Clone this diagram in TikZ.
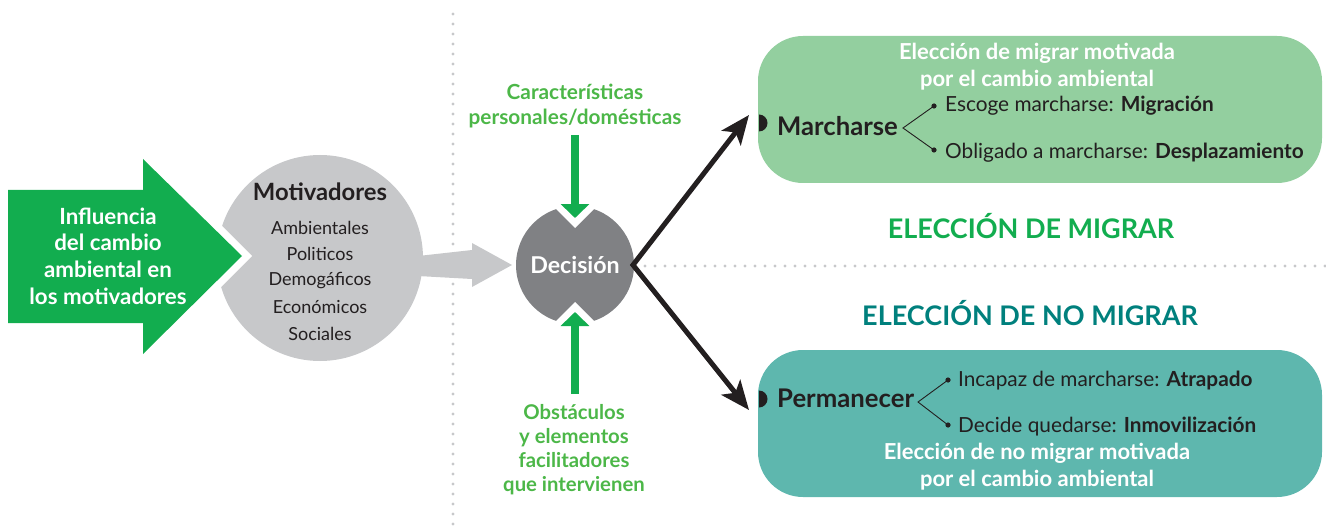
\documentclass[tikz,border=0pt]{standalone}
\usepackage{fontspec}
\setmainfont{Lato}
\usetikzlibrary{arrows.meta}
\definecolor{bigarrow}{HTML}{12AD4F}
\definecolor{lblgreen}{HTML}{4CB748}
\definecolor{lgray}{HTML}{C7C8CA}
\definecolor{dgray}{HTML}{808184}
\definecolor{boxgreen}{HTML}{93CF9F}
\definecolor{boxteal}{HTML}{5EB7AE}
\definecolor{headgreen}{HTML}{12AD4F}
\definecolor{headteal}{HTML}{00807D}
\definecolor{ink}{HTML}{231F20}
\tikzset{
  dotline/.style={draw=lgray, line width=3.4pt, line cap=round, dash pattern=on 0pt off 10pt},
  greenlbl/.style={text=lblgreen, font=\fontsize{20.8}{24.5}\selectfont\bfseries, align=center, inner sep=0pt},
  motitem/.style={text=ink, font=\fontsize{18}{26.5}\selectfont, align=center, inner sep=0pt},
  choicebox/.style={rounded corners=45pt, minimum width=564pt, minimum height=147pt, inner sep=0pt},
  boxtitle/.style={text=white, font=\fontsize{22}{27.5}\selectfont\bfseries, align=center, inner sep=0pt},
  optlbl/.style={text=ink, font=\fontsize{20.8}{24}\selectfont, anchor=west, inner sep=0pt},
  optname/.style={text=ink, font=\fontsize{25.7}{28}\selectfont\bfseries, anchor=west, inner sep=0pt},
  heading/.style={font=\fontsize{27}{30}\selectfont\bfseries, inner sep=0pt},
  garrow/.style={draw=bigarrow, line width=8pt, -{Triangle[length=14pt,width=28pt]}},
  blackarrow/.style={draw=ink, line width=5pt, line join=miter,
     {Stealth[length=29pt,width=24pt,inset=7pt]}-{Stealth[length=29pt,width=24pt,inset=7pt]}},
  bracket/.style={draw=ink, line width=0.9pt},
}
\begin{document}
\begin{tikzpicture}[x=1pt,y=-1pt]
\useasboundingbox (0,0) rectangle (1326,532);
% dotted separators
\coordinate (vtop) at (453,14);
\coordinate (vbot) at (453,532);
\draw[dotline] (vtop) -- (vbot);
\coordinate (hleft) at (645,266);
\coordinate (hright) at (1326,266);
\draw[dotline] (hleft) -- (hright);

% Motivadores circle
\node[circle, fill=lgray, minimum size=206pt, inner sep=0pt] (mot) at (320,258) {};
% notch for green arrow
\fill[white] (252,256) -- (172,176) -- (172,336) -- cycle;
% big green arrow
\fill[bigarrow] (8,190) -- (143,190) -- (143,159) -- (242,256) -- (143,354) -- (143,323) -- (8,323) -- cycle;
\node[text=white, font=\fontsize{22.3}{26.6}\selectfont\bfseries, align=center, inner sep=0pt] (infl) at (108,256)
  {Influencia\\del cambio\\ambiental en\\los motivadores};
\node[text=ink, font=\fontsize{23.8}{26}\selectfont\bfseries, inner sep=0pt] (mottitle) at (320,192) {Motivadores};
\node[motitem] (m1) at (320,228) {Ambientales};
\node[motitem] (m2) at (320,254) {Politicos};
\node[motitem] (m3) at (320,281) {Demogáficos};
\node[motitem] (m4) at (320,307) {Económicos};
\node[motitem] (m5) at (320,334) {Sociales};

% gray arrow to decision
\fill[lgray] (418,256) -- (472,250) -- (472,243) -- (512,265) -- (472,287) -- (472,279) -- (418,276) -- cycle;

% Decision circle
\node[circle, fill=dgray, minimum size=118pt, inner sep=0pt] (dec) at (575,265) {};
\fill[white] (575,228) -- (530,183) -- (620,183) -- cycle;
\fill[white] (575,302) -- (530,347) -- (620,347) -- cycle;
\node[text=white, font=\fontsize{23.2}{26}\selectfont\bfseries, inner sep=0pt] (dectxt) at (575,265) {Decisión};

% green labels and arrows
\node[greenlbl] (carac) at (575,106) {Características\\personales/domésticas};
\node[greenlbl, font=\fontsize{20.3}{24}\selectfont\bfseries] (obst) at (574,449.5) {Obstáculos\\y elementos\\facilitadores\\que intervienen};
\coordinate (topstart) at (575,135);
\coordinate (toptip) at (575,218);
\coordinate (botstart) at (575,394);
\coordinate (bottip) at (575,312);
\draw[garrow] (topstart) -- (toptip);
\draw[garrow] (botstart) -- (bottip);

% choice boxes
\node[choicebox, fill=boxgreen] (up) at (1040,109.5) {};
\node[choicebox, fill=boxteal] (low) at (1040,423.5) {};

% black arrows
\coordinate (decE) at (633,265);
\coordinate (uptip) at (749,115);
\coordinate (lowtip) at (749,410);
\draw[blackarrow] (uptip) -- (decE) -- (lowtip);

% half dots
\begin{scope}
\clip (759,100) rectangle (790,440);
\fill[ink] (759,123) circle (8.5);
\fill[ink] (759,399) circle (8.5);
\end{scope}

% upper box content
\node[boxtitle] (uptitle) at (1037,66.5) {Elección de migrar motivada\\por el cambio ambiental};
\node[optname] (march) at (777,126) {Marcharse};
\coordinate (mb) at (903,128);
\coordinate (m1e) at (934,106);
\coordinate (m2e) at (934,150);
\draw[bracket] (m1e) -- (mb) -- (m2e);
\fill[ink] (m1e) circle (2.6);
\fill[ink] (m2e) circle (2.6);
\node[optlbl] (esc) at (945,106) {Escoge marcharse: \textbf{Migración}};
\node[optlbl] (obl) at (945,153) {Obligado a marcharse: \textbf{Desplazamiento}};

% headings
\node[heading, text=headgreen] (hmig) at (1031,226) {ELECCIÓN DE MIGRAR};
\node[heading, text=headteal] (hnomig) at (1030,313) {ELECCIÓN DE NO MIGRAR};

% lower box content
\node[optname] (perm) at (777,398) {Permanecer};
\coordinate (pb) at (918,402);
\coordinate (p1e) at (948,380);
\coordinate (p2e) at (948,425);
\draw[bracket] (p1e) -- (pb) -- (p2e);
\fill[ink] (p1e) circle (2.6);
\fill[ink] (p2e) circle (2.6);
\node[optlbl] (inc) at (958,381) {Incapaz de marcharse: \textbf{Atrapado}};
\node[optlbl] (dqd) at (958,427) {Decide quedarse: \textbf{Inmovilización}};
\node[boxtitle] (lowtitle) at (1037,466.5) {Elección de no migrar motivada\\por el cambio ambiental};
\end{tikzpicture}
\end{document}
